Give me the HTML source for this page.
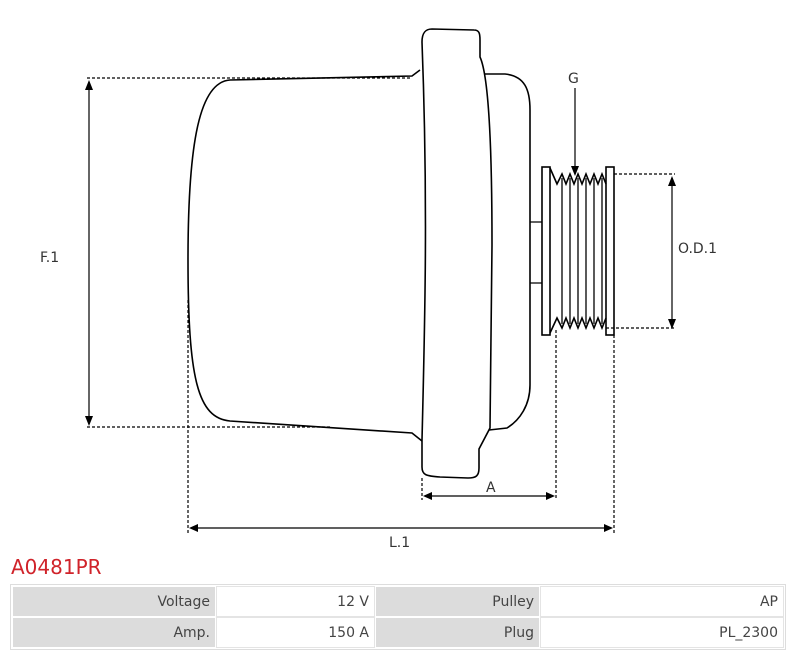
<!DOCTYPE html>
<html><head><meta charset="utf-8"><style>
body{margin:0;width:800px;height:657px;background:#fff;font-family:"DejaVu Sans","Liberation Sans",sans-serif;overflow:hidden;position:relative}
svg{position:absolute;left:0;top:0}
.t{position:absolute;left:11px;top:555px;color:#d0232a;font-size:20px}
table{position:absolute;left:10px;top:584px;width:776px;border:1px solid #ddd;border-collapse:separate;border-spacing:2px;font-size:14px;color:#444}
td{height:29px;text-align:right;padding:0 5px 0 0;border:0}
td.l{background:#dcdcdc}
td.v{background:#fff;outline:1px solid #e4e4e4}
</style></head><body>
<svg width="800" height="550" viewBox="0 0 800 550" fill="none" stroke="#000" stroke-width="1.6">
<path d="M420,70 L412,76 L230,80 C200,82 188,140 188,260 C188,380 198,418 230,421 L412,433 L422,441"/>
<path d="M422,42 C422,32 426,29 432,29 L474,30 C479,30 480,33 480,40 L480,57 C486,70 492,110 492,245 L490,428 L479,449 L479,468 C479,476 476,478 468,478 L440,477 C426,476 422,475 422,467 L422,440 C425,320 428,200 422,42 Z"/>
<path d="M485,74 L505,74 C525,76 530,90 530,110 L530,385 C530,405 520,420 507,428 L489,430"/>
<rect x="542" y="167" width="8" height="168"/>
<rect x="606" y="167" width="8" height="168"/>
<path d="M530,222 L542,222 M530,283 L542,283" stroke-width="1.2"/>
<path d="M550,168 L557,184 L562,174 L566,184 L570,174 L574,184 L578,174 L582,184 L586,174 L590,184 L594,174 L598,184 L602,174 L606,184"/>
<path d="M550,333 L557,318 L562,328 L566,318 L570,328 L574,318 L578,328 L582,318 L586,328 L590,318 L594,328 L598,318 L602,328 L606,318"/>
<path d="M562,178 V324 M570,178 V324 M578,178 V324 M586,178 V324 M594,178 V324 M602,178 V324" stroke-width="1.3"/>
<g stroke-width="1.2" stroke-dasharray="3,2">
<path d="M87,78 H412 M87,427 H330 M188,300 V533 M422,478 V500 M556,330 V500 M614,335 V533 M614,174 H675 M606,328 H675"/>
</g>
<g stroke-width="1.2">
<path d="M89,82 V424 M672,178 V326 M425,496 H553 M191,528 H611 M575,88 V172"/>
</g>
<g fill="#000" stroke="none">
<path d="M89,80 L85,90 L93,90Z M89,426 L85,416 L93,416Z"/>
<path d="M672,176 L668,186 L676,186Z M672,329 L668,319 L676,319Z"/>
<path d="M423,496 L432,492 L432,500Z M555,496 L546,492 L546,500Z"/>
<path d="M189,528 L198,524 L198,532Z M613,528 L604,524 L604,532Z"/>
<path d="M575,176 L571,166 L579,166Z"/>
</g>
<g fill="#333" stroke="none" font-family="DejaVu Sans, sans-serif" font-size="14">
<text x="40" y="262">F.1</text>
<text x="678" y="253">O.D.1</text>
<text x="568" y="83">G</text>
<text x="486" y="492">A</text>
<text x="389" y="547">L.1</text>
</g>
</svg>
<div class="t">A0481PR</div>
<table>
<tr><td class="l" style="width:197px">Voltage</td><td class="v" style="width:152px">12 V</td><td class="l" style="width:158px">Pulley</td><td class="v">AP</td></tr>
<tr><td class="l">Amp.</td><td class="v">150 A</td><td class="l">Plug</td><td class="v">PL_2300</td></tr>
</table>
</body></html>
